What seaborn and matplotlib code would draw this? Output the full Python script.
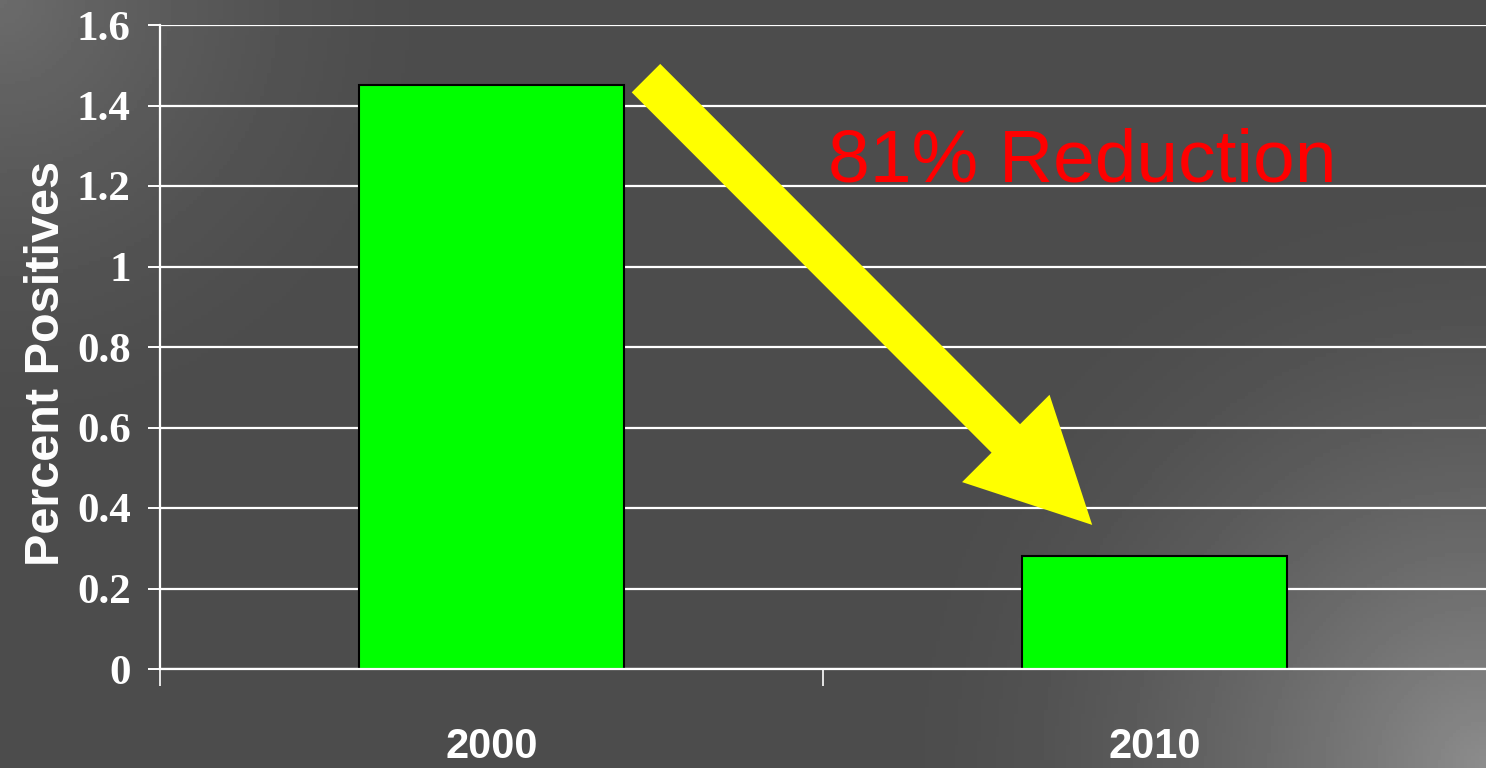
import numpy as np
import pandas as pd
import matplotlib.pyplot as plt
import seaborn as sns

years = ["2000", "2010"]
percent_positives = [1.45, 0.28]
y_ticks = [0, 0.2, 0.4, 0.6, 0.8, 1, 1.2, 1.4, 1.6]
y_tick_labels = ["0", "0.2", "0.4", "0.6", "0.8", "1", "1.2", "1.4", "1.6"]
note = "81% Reduction"

df = pd.DataFrame({"year": years, "pct": percent_positives})

sns.set_style("dark")
plt.rcParams["font.family"] = ["Liberation Sans", "DejaVu Sans"]

fig = plt.figure(figsize=(14.86, 7.68), dpi=100)

# gray slide background, lighter at the bottom-right and top-left corners
bg = fig.add_axes([0, 0, 1, 1], zorder=-10)
gx, gy = np.meshgrid(np.linspace(0, 1.93, 400), np.linspace(0, 1, 200))
d_br = np.hypot(gx - 1.93, gy - 1)
d_tl = np.hypot(gx, gy)
shade = 0.30 + 0.25 * np.clip(1 - d_br / 0.75, 0, 1) ** 1.6 \
    + 0.12 * np.clip(1 - d_tl / 0.55, 0, 1) ** 1.5
bg.imshow(shade, cmap="gray", vmin=0, vmax=1, aspect="auto",
          extent=[0, 1, 0, 1], origin="upper")
bg.axis("off")

ax = fig.add_axes([160 / 1486, 99 / 768, 1326 / 1486, 644 / 768])
ax.set_facecolor("none")

sns.barplot(
    data=df,
    x="year",
    y="pct",
    color="#00ff00",
    saturation=1,
    width=0.4,
    edgecolor="black",
    linewidth=1.5,
    zorder=3,
    ax=ax
)

ax.set_xlim(-0.5, 1.5)
ax.set_ylim(0, 1.6)
ax.set_yticks(y_ticks)
ax.set_yticklabels(y_tick_labels, family="Liberation Serif",
                   fontweight="bold", fontsize=31, color="white")
ax.set_xticks([0, 1])
ax.set_xticklabels(years, fontweight="bold", fontsize=30, color="white")
ax.set_xticks([-0.5, 0.5], minor=True)

ax.tick_params(axis="x", which="major", length=0, pad=42, bottom=True)
ax.tick_params(axis="x", which="minor", length=12, width=1.2,
               color="white", direction="out", bottom=True)
ax.tick_params(axis="y", length=9, width=1.4, color="white",
               direction="out", pad=12, left=True)

ax.yaxis.grid(True, color="white", linewidth=1.6, zorder=0)
ax.xaxis.grid(False)
ax.set_axisbelow(True)

for side in ["top", "right"]:
    ax.spines[side].set_visible(False)
for side in ["left", "bottom"]:
    ax.spines[side].set_visible(True)
    ax.spines[side].set_color("white")
    ax.spines[side].set_linewidth(1.6)
    ax.spines[side].set_zorder(4)

ax.set_xlabel("")
ax.set_ylabel("Percent Positives", fontsize=35, fontweight="bold",
              color="white")
ax.yaxis.set_label_coords(-0.069, 0.475)

ax.annotate(
    "",
    xy=(0.906, 0.358),
    xytext=(0.233, 1.468),
    arrowprops=dict(
        arrowstyle="simple,head_length=4.4,head_width=4.45,tail_width=1.45",
        color="yellow",
        mutation_scale=20,
        shrinkA=0,
        shrinkB=0,
        linewidth=0
    ),
    zorder=5
)

ax.text(0.507, 1.212, note, color="red", fontsize=54, zorder=6)

plt.savefig("out.png", dpi=100)
plt.close()
